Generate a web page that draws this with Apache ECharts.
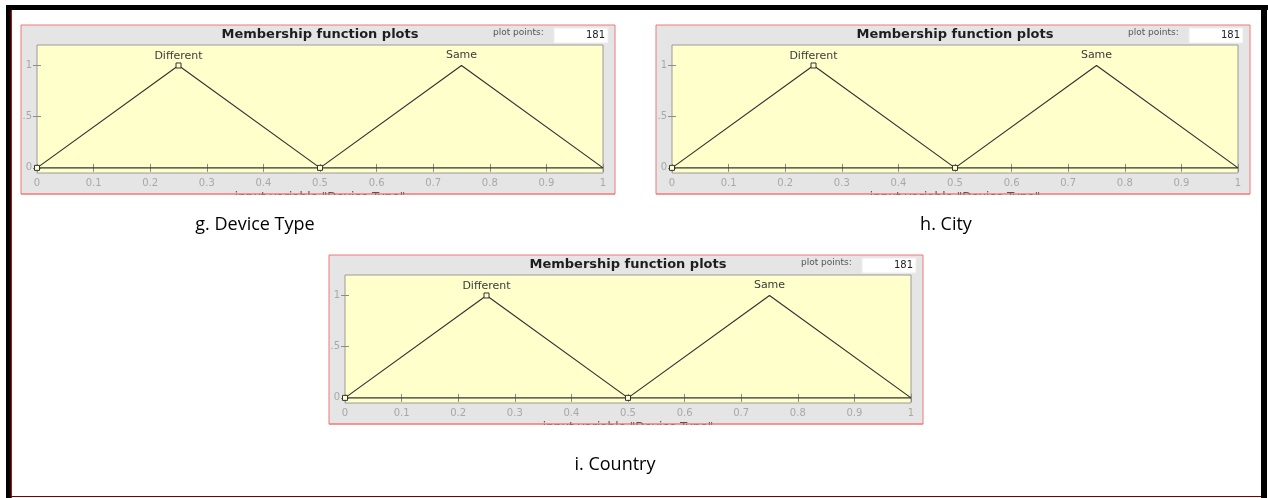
<!DOCTYPE html>
<html>
<head>
<meta charset="utf-8">
<script src="https://cdn.jsdelivr.net/npm/echarts@6/dist/echarts.min.js"></script>
<style>
html, body { margin: 0; padding: 0; background: #fff; }
#chart { width: 1268px; height: 498px; }
</style>
</head>
<body>
<div id="chart"></div>
<script>
// membership functions of the input variable (triangles)
const mfNames = ['Different', 'Same'];
const diffX = [0, 0.25, 0.5];
const diffY = [0, 1, 0];
const sameX = [0.5, 0.75, 1];
const sameY = [0, 1, 0];
const yTicks = [0, 0.5, 1];
const yTickLabels = ['0', '.5', '1'];
const plotPoints = '181';
const plotTitle = 'Membership function plots';
const xName = 'input variable "Device Type"';
const captions = ['g. Device Type', 'h. City', 'i. Country'];

// layout: frame top-left of every panel, caption centres
const frames = [[21, 25], [656, 25], [329, 255]];
const capPos = [[255, 225], [946, 225], [615, 465]];
const FW = 594, FH = 169;

const chart = echarts.init(document.getElementById('chart'));

const grids = [], xAxes = [], yAxes = [], series = [], graphic = [];

const tickStyle = { inside: true, length: 4, lineStyle: { color: '#8c8c8c' } };

// label on the peak of a membership function
function peakLabel(name, dist) {
	return { show: true, position: 'top', distance: dist, formatter: name, color: '#3a3a3a', fontSize: 11, fontFamily: 'DejaVu Sans' };
}

frames.forEach(function (f, p) {
	const fx = f[0], fy = f[1];
	grids.push({
		left: fx + 16, top: fy + 20, width: 566, height: 128,
		show: true, backgroundColor: '#ffffcc', borderColor: '#9a9a9a', borderWidth: 1
	});
	// bottom + top x axes
	xAxes.push({
		gridIndex: p, type: 'value', min: 0, max: 1, interval: 0.1,
		axisLine: { show: false }, splitLine: { show: false },
		axisTick: tickStyle,
		axisLabel: { color: '#a8a8a8', fontSize: 10, margin: 5, fontFamily: 'DejaVu Sans' }
	});
	xAxes.push({
		gridIndex: p, type: 'value', min: 0, max: 1, interval: 0.1, position: 'top',
		axisLine: { show: false }, splitLine: { show: false },
		axisTick: tickStyle, axisLabel: { show: false }
	});
	// left + right y axes
	yAxes.push({
		gridIndex: p, type: 'value', min: -0.05, max: 1.2,
		axisLine: { show: false }, splitLine: { show: false },
		axisTick: Object.assign({ customValues: yTicks }, tickStyle),
		axisLabel: {
			customValues: yTicks, color: '#a8a8a8', fontSize: 10, margin: 5, fontFamily: 'DejaVu Sans',
			formatter: function (v) { return yTickLabels[yTicks.indexOf(v)]; }
		}
	});
	yAxes.push({
		gridIndex: p, type: 'value', min: -0.05, max: 1.2, position: 'right',
		axisLine: { show: false }, splitLine: { show: false },
		axisTick: Object.assign({ customValues: yTicks }, tickStyle),
		axisLabel: { show: false }
	});

	const line = { color: '#333', width: 1.2 };
	// baseline at 0
	series.push({
		type: 'line', xAxisIndex: p * 2, yAxisIndex: p * 2, showSymbol: false, silent: true,
		lineStyle: line, data: [[0, 0], [1, 0]]
	});
	series.push({
		type: 'line', name: mfNames[0], xAxisIndex: p * 2, yAxisIndex: p * 2,
		symbol: 'rect', symbolSize: 5, lineStyle: line,
		itemStyle: { color: '#ffffcc', borderColor: '#333', borderWidth: 1 },
		data: diffX.map(function (x, i) {
			const d = { value: [x, diffY[i]] };
			if (diffY[i] === 1) d.label = peakLabel(mfNames[0], 1);
			return d;
		})
	});
	series.push({
		type: 'line', name: mfNames[1], xAxisIndex: p * 2, yAxisIndex: p * 2,
		symbol: 'circle', symbolSize: 0, lineStyle: line,
		itemStyle: { color: '#333' },
		data: sameX.map(function (x, i) {
			const d = { value: [x, sameY[i]] };
			if (sameY[i] === 1) d.label = peakLabel(mfNames[1], 5);
			return d;
		})
	});

	// figure frame
	graphic.push({
		type: 'rect', z: -10, shape: { x: fx, y: fy, width: FW, height: FH },
		style: { fill: '#e5e5e5', stroke: '#f07878', lineWidth: 1 }
	});
	graphic.push({
		type: 'text', z: 10, x: fx + 299, y: fy + 10,
		style: { text: plotTitle, fill: '#1e1e1e', font: 'bold 13px "DejaVu Sans"', align: 'center', verticalAlign: 'middle' }
	});
	graphic.push({
		type: 'text', z: 10, x: fx + 472, y: fy + 8,
		style: { text: 'plot points:', fill: '#555', font: '9px "DejaVu Sans"', verticalAlign: 'middle' }
	});
	graphic.push({
		type: 'rect', z: 10, shape: { x: fx + 533, y: fy + 3, width: 54, height: 15 },
		style: { fill: '#ffffff', stroke: '#ececec', lineWidth: 1 }
	});
	graphic.push({
		type: 'text', z: 11, x: fx + 584, y: fy + 10,
		style: { text: plotPoints, fill: '#222', font: '10px "DejaVu Sans"', align: 'right', verticalAlign: 'middle' }
	});
	// x label, mostly hidden under the frame edge
	graphic.push({
		type: 'text', z: 10, x: fx + 299, y: fy + FH - 2,
		style: { text: xName, fill: '#555', font: '12px "DejaVu Sans"', align: 'center', verticalAlign: 'top' }
	});
	graphic.push({
		type: 'rect', z: 20, shape: { x: fx - 2, y: fy + FH + 1, width: FW + 4, height: 16 },
		style: { fill: '#ffffff' }
	});
	graphic.push({
		type: 'line', z: 21, shape: { x1: fx, y1: fy + FH, x2: fx + FW, y2: fy + FH },
		style: { stroke: '#f07878', lineWidth: 1 }
	});
	// caption
	graphic.push({
		type: 'text', z: 10, x: capPos[p][0], y: capPos[p][1],
		style: { text: captions[p], fill: '#000', font: '18px "Open Sans"', align: 'center', verticalAlign: 'middle' }
	});
});

// outer page border
graphic.push({ type: 'rect', z: 30, shape: { x: 6, y: 5, width: 5, height: 493 }, style: { fill: '#000' } });
graphic.push({ type: 'rect', z: 30, shape: { x: 6, y: 5, width: 1262, height: 5 }, style: { fill: '#000' } });
graphic.push({ type: 'rect', z: 30, shape: { x: 1261, y: 5, width: 6, height: 493 }, style: { fill: '#000' } });
graphic.push({ type: 'rect', z: 30, shape: { x: 11, y: 10, width: 1, height: 488 }, style: { fill: '#e00000' } });
graphic.push({ type: 'rect', z: 30, shape: { x: 11, y: 496, width: 1250, height: 1 }, style: { fill: '#7a0000' } });

chart.setOption({
	animation: false,
	backgroundColor: '#ffffff',
	grid: grids,
	xAxis: xAxes,
	yAxis: yAxes,
	series: series,
	graphic: graphic
});
</script>
</body>
</html>
